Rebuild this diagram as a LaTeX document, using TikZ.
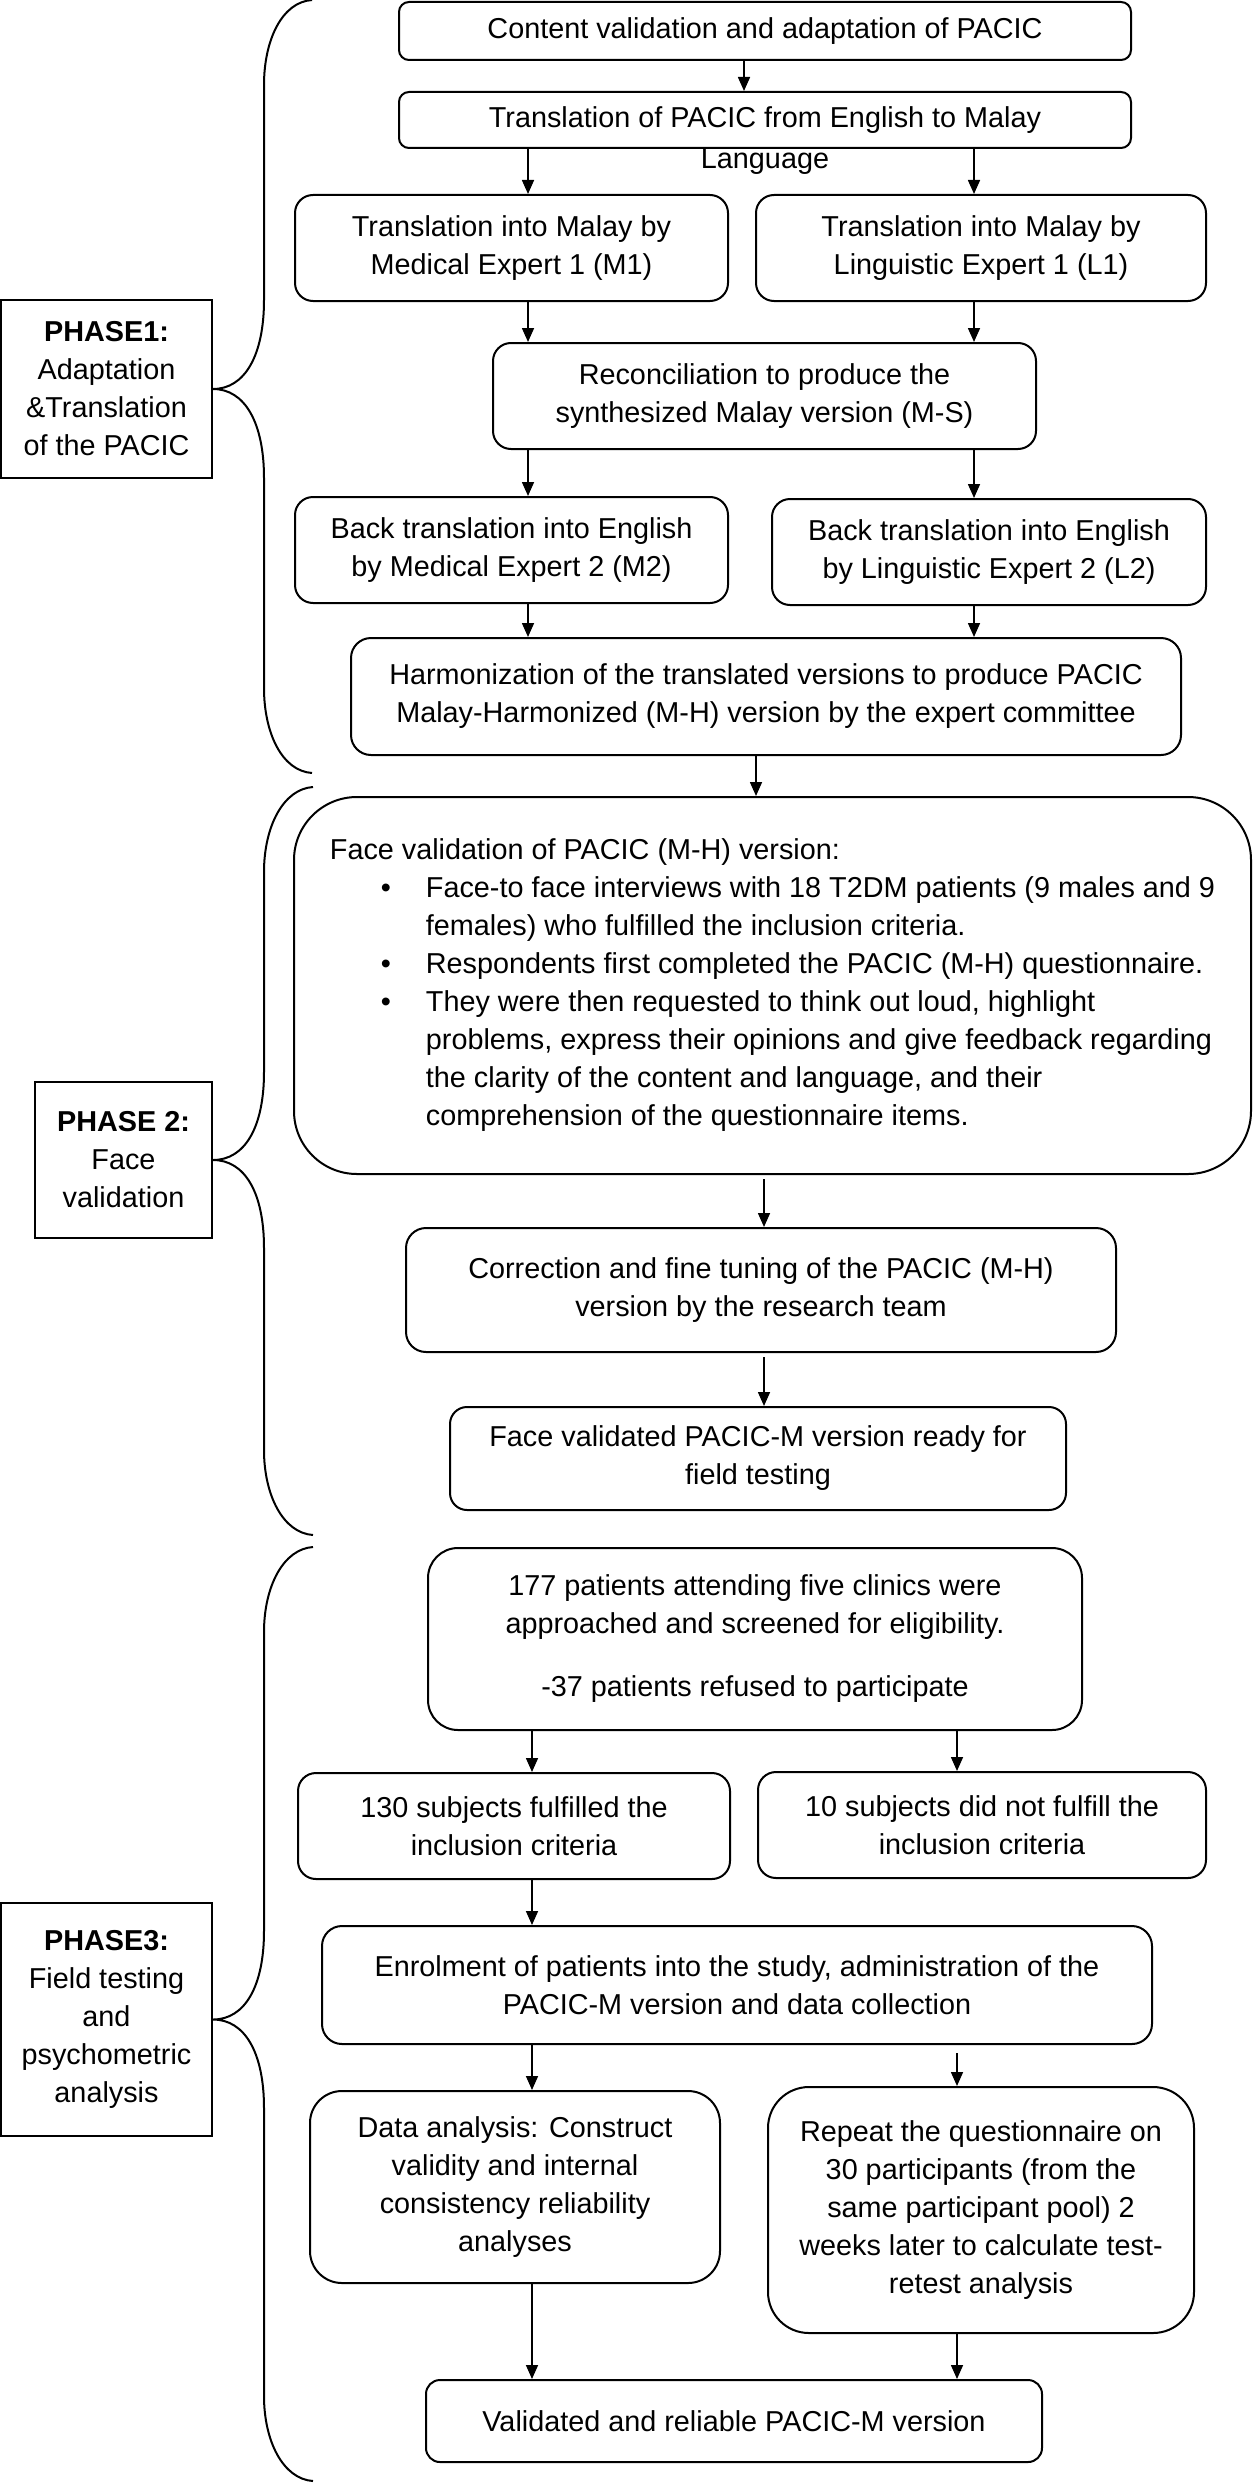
\documentclass[tikz,border=0pt]{standalone}
\usepackage{fontspec}
\setmainfont{Liberation Sans}
\usepackage{tikz}
\usetikzlibrary{arrows.meta}

\newcommand{\boxfont}{\fontsize{14.4}{19}\selectfont}

\begin{document}
\begin{tikzpicture}[x=0.5pt, y=-0.5pt,
		stepbox/.style={draw, line width=1pt, align=center, inner sep=0pt, font=\boxfont},
		phasebox/.style={draw, line width=1pt, align=center, inner sep=0pt, font=\boxfont},
		arr/.style={-{Triangle[length=7pt,width=6pt]}, line width=0.8pt},
		brace/.style={line width=1pt}]
		\useasboundingbox (0,0) rectangle (1253,2483);

		% Arrow columns
		\coordinate (cA) at (744,0);
		\coordinate (cL) at (528,0);
		\coordinate (cR) at (974,0);
		\coordinate (cMH) at (756,0);
		\coordinate (cF) at (764,0);
		\coordinate (bL) at (532,0);
		\coordinate (bR) at (957,0);

		% Phase 1 boxes
		\node[stepbox, rounded corners=5pt, minimum width=366pt, minimum height=29pt] (content) at (765,31) {Content validation and adaptation of PACIC};
		\node[stepbox, rounded corners=5pt, minimum width=366pt, minimum height=28pt] (trans) at (765,120) {Translation of PACIC from English to Malay};
		\node[font=\boxfont, inner sep=0pt] (translang) at (765,162) {Language};
		\node[stepbox, rounded corners=9pt, minimum width=216.5pt, minimum height=53pt] (m1) at (511.5,248) {Translation into Malay by\\Medical Expert 1 (M1)};
		\node[stepbox, rounded corners=9pt, minimum width=225pt, minimum height=53pt] (l1) at (981,248) {Translation into Malay by\\Linguistic Expert 1 (L1)};
		\node[stepbox, rounded corners=9pt, minimum width=271.5pt, minimum height=53pt] (ms) at (764.5,396) {Reconciliation to produce the\\synthesized Malay version (M-S)};
		\node[stepbox, rounded corners=9pt, minimum width=216.5pt, minimum height=53pt] (m2) at (511.5,550) {Back translation into English\\by Medical Expert 2 (M2)};
		\node[stepbox, rounded corners=9pt, minimum width=217pt, minimum height=53pt] (l2) at (989,552) {Back translation into English\\by Linguistic Expert 2 (L2)};
		\node[stepbox, rounded corners=10pt, minimum width=415pt, minimum height=58.5pt] (mh) at (766,696.5) {Harmonization of the translated versions to produce PACIC\\Malay-Harmonized (M-H) version by the expert committee};

		% Phase 2 boxes
		\node[stepbox, rounded corners=31.5pt, minimum width=478.5pt, minimum height=188.5pt, align=left] (face) at (772.5,985.5) {Face validation of PACIC (M-H) version:\\
			\hspace*{25.5pt}\makebox[22.5pt][l]{\textbullet}Face-to face interviews with 18 T2DM patients (9 males and 9\\
			\hspace*{48pt}females) who fulfilled the inclusion criteria.\\
			\hspace*{25.5pt}\makebox[22.5pt][l]{\textbullet}Respondents first completed the PACIC (M-H) questionnaire.\\
			\hspace*{25.5pt}\makebox[22.5pt][l]{\textbullet}They were then requested to think out loud, highlight\\
			\hspace*{48pt}problems, express their opinions and give feedback regarding\\
			\hspace*{48pt}the clarity of the content and language, and their\\
			\hspace*{48pt}comprehension of the questionnaire items.};
		\node[stepbox, rounded corners=10pt, minimum width=355pt, minimum height=62pt] (corr) at (761,1290) {Correction and fine tuning of the PACIC (M-H)\\version by the research team};
		\node[stepbox, rounded corners=8.5pt, minimum width=308pt, minimum height=51.5pt] (fv) at (758,1458.5) {Face validated PACIC-M version ready for\\field testing};

		% Phase 3 boxes
		\node[stepbox, rounded corners=15pt, minimum width=327pt, minimum height=91pt] (pat) at (755,1639) {177 patients attending five clinics were\\approached and screened for eligibility.\\[12.5pt]-37 patients refused to participate};
		\node[stepbox, rounded corners=9pt, minimum width=216pt, minimum height=53pt] (s130) at (514,1826) {130 subjects fulfilled the\\inclusion criteria};
		\node[stepbox, rounded corners=9pt, minimum width=224pt, minimum height=53pt] (s10) at (982,1825) {10 subjects did not fulfill the\\inclusion criteria};
		\node[stepbox, rounded corners=10pt, minimum width=415pt, minimum height=59pt] (enrol) at (737,1985) {Enrolment of patients into the study, administration of the\\PACIC-M version and data collection};
		\node[stepbox, rounded corners=16pt, minimum width=205pt, minimum height=96pt] (data) at (515,2187) {Data analysis: Construct\\validity and internal\\consistency reliability\\analyses};
		\node[stepbox, rounded corners=20.5pt, minimum width=213pt, minimum height=123pt] (rep) at (981,2210) {Repeat the questionnaire on\\30 participants (from the\\same participant pool) 2\\weeks later to calculate test-\\retest analysis};
		\node[stepbox, rounded corners=7pt, minimum width=308pt, minimum height=41pt] (valid) at (734,2421) {Validated and reliable PACIC-M version};

		% Phase labels
		\node[phasebox, minimum width=105.5pt, minimum height=89pt] (p1) at (106.5,389) {\textbf{PHASE1:}\\Adaptation\\\&Translation\\of the PACIC};
		\node[phasebox, minimum width=88.5pt, minimum height=78pt] (p2) at (123.5,1160) {\textbf{PHASE 2:}\\Face\\validation};
		\node[phasebox, minimum width=105.5pt, minimum height=116.5pt] (p3) at (106.5,2019.5) {\textbf{PHASE3:}\\Field testing\\and\\psychometric\\analysis};

		% Braces
		\draw[brace] (312,0) .. controls (282,2) and (264,40) .. (264,85) -- (264,300) .. controls (264,355) and (245,389) .. (p1.east) .. controls (245,389) and (264,423) .. (264,478) -- (264,688) .. controls (264,733) and (282,771) .. (312,773);
		\draw[brace] (313,787) .. controls (283,789) and (264,827) .. (264,872) -- (264,1072) .. controls (264,1127) and (245,1160) .. (p2.east) .. controls (245,1160) and (264,1193) .. (264,1248) -- (264,1450) .. controls (264,1495) and (283,1533) .. (313,1535);
		\draw[brace] (313,1547) .. controls (283,1549) and (264,1587) .. (264,1632) -- (264,1931) .. controls (264,1986) and (245,2019.5) .. (p3.east) .. controls (245,2019.5) and (264,2053) .. (264,2108) -- (264,2396) .. controls (264,2441) and (283,2479) .. (313,2481);

		% Arrows
		\draw[arr] (content.south -| cA) -- (trans.north -| cA);
		\draw[arr] (trans.south -| cL) -- (m1.north -| cL);
		\draw[arr] (trans.south -| cR) -- (l1.north -| cR);
		\draw[arr] (m1.south -| cL) -- (ms.north -| cL);
		\draw[arr] (l1.south -| cR) -- (ms.north -| cR);
		\draw[arr] (ms.south -| cL) -- (m2.north -| cL);
		\draw[arr] (ms.south -| cR) -- (l2.north -| cR);
		\draw[arr] (m2.south -| cL) -- (mh.north -| cL);
		\draw[arr] (l2.south -| cR) -- (mh.north -| cR);
		\draw[arr] (mh.south -| cMH) -- (face.north -| cMH);
		\draw[arr, shorten <=2pt] (face.south -| cF) -- (corr.north -| cF);
		\draw[arr, shorten <=2pt] (corr.south -| cF) -- (fv.north -| cF);
		\draw[arr] (pat.south -| bL) -- (s130.north -| bL);
		\draw[arr] (pat.south -| bR) -- (s10.north -| bR);
		\draw[arr] (s130.south -| bL) -- (enrol.north -| bL);
		\draw[arr] (enrol.south -| bL) -- (data.north -| bL);
		\draw[arr, shorten <=4pt] (enrol.south -| bR) -- (rep.north -| bR);
		\draw[arr] (data.south -| bL) -- (valid.north -| bL);
		\draw[arr] (rep.south -| bR) -- (valid.north -| bR);
\end{tikzpicture}
\end{document}
